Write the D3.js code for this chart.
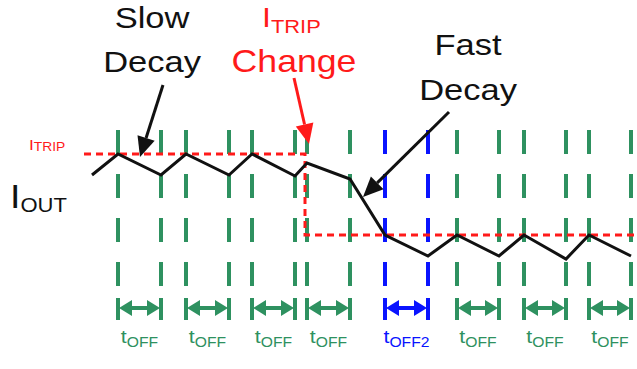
<!DOCTYPE html>
<html>
<head>
<meta charset="utf-8">
<script src="https://cdn.jsdelivr.net/npm/d3@7"></script>
<style>
  html, body { margin: 0; padding: 0; background: #fff; }
  svg { display: block; }
  text { font-family: "Liberation Sans", Arial, sans-serif; }
</style>
</head>
<body>
<svg id="chart" width="637" height="369"></svg>
<script>
// --- DATA ---
// off-time windows (start / end, in us)
const offStart = [2.6, 9.4, 16.0, 21.5, 29.3, 36.5, 43.2, 49.7];
const offEnd   = [6.9, 13.7, 20.3, 25.8, 33.6, 40.7, 47.4, 53.9];
const offSub   = ["OFF", "OFF", "OFF", "OFF", "OFF2", "OFF", "OFF", "OFF"];
const offKind  = ["slow", "slow", "slow", "slow", "fast", "slow", "slow", "slow"];

// output current waveform
const waveT = [0, 2.6, 6.9, 9.4, 13.7, 16.0, 20.3, 21.5, 25.8, 29.3, 33.6, 36.5, 40.7, 43.2, 47.4, 49.7, 53.9];
const waveI = [1.45, 1.66, 1.45, 1.66, 1.45, 1.66, 1.44, 1.57, 1.41, 0.85, 0.64, 0.85, 0.64, 0.85, 0.61, 0.85, 0.64];

// trip threshold (steps down at the change)
const tripT = [-0.8, 21.3, 21.3, 54.5];
const tripI = [1.66, 1.66, 0.85, 0.85];

// vertical marker extents / arrow row / label row (current units)
const markTop = 1.9, markBottom = 0.33;
const arrowRow = 0.12, capTop = 0.22, capBottom = 0.0;
const labelRow = -0.23;

const colors = { slow: "#2e9160", fast: "#0a14ff", trip: "#ff1a1a", wave: "#111" };

// --- SCALES ---
const x = d3.scaleLinear().domain([0, 54.5]).range([92, 637]);
const y = d3.scaleLinear().domain([0, 2]).range([320, 120]);

const svg = d3.select("#chart");
const windows = offStart.map((s, i) => ({ s, e: offEnd[i], sub: offSub[i], kind: offKind[i] }));

// dashed vertical markers
const marks = svg.append("g");
windows.forEach(w => {
  [w.s, w.e].forEach(t => {
    marks.append("line")
      .attr("x1", x(t)).attr("x2", x(t))
      .attr("y1", y(markTop)).attr("y2", y(markBottom))
      .attr("stroke", colors[w.kind]).attr("stroke-width", 4)
      .attr("stroke-dasharray", "24,20");
  });
});

// double arrows + labels
const arrows = svg.append("g");
windows.forEach(w => {
  const c = colors[w.kind];
  const x1 = x(w.s), x2 = x(w.e), ya = y(arrowRow);
  [x1, x2].forEach(xx => {
    arrows.append("line")
      .attr("x1", xx).attr("x2", xx)
      .attr("y1", y(capTop)).attr("y2", y(capBottom))
      .attr("stroke", c).attr("stroke-width", 4);
  });
  arrows.append("line")
    .attr("x1", x1 + 6).attr("x2", x2 - 6)
    .attr("y1", ya).attr("y2", ya)
    .attr("stroke", c).attr("stroke-width", 4);
  arrows.append("path")
    .attr("d", `M${x1 + 1},${ya} L${x1 + 14},${ya - 8} L${x1 + 14},${ya + 8} Z`)
    .attr("fill", c);
  arrows.append("path")
    .attr("d", `M${x2 - 1},${ya} L${x2 - 14},${ya - 8} L${x2 - 14},${ya + 8} Z`)
    .attr("fill", c);

  const lbl = arrows.append("text")
    .attr("transform", `translate(${(x1 + x2) / 2},${y(labelRow)}) scale(1.12,1)`)
    .attr("text-anchor", "middle")
    .attr("fill", c);
  lbl.append("tspan").attr("font-size", 19).text("t");
  lbl.append("tspan").attr("font-size", 14).attr("dy", 4).text(w.sub);
});

// trip threshold
const tripLine = d3.line().x((d, i) => x(tripT[i])).y(d => y(d));
svg.append("path")
  .attr("d", tripLine(tripI))
  .attr("fill", "none")
  .attr("stroke", colors.trip).attr("stroke-width", 3)
  .attr("stroke-dasharray", "7,5");

// current waveform
const waveLine = d3.line().x((d, i) => x(waveT[i])).y(d => y(d));
svg.append("path")
  .attr("d", waveLine(waveI))
  .attr("fill", "none")
  .attr("stroke", colors.wave).attr("stroke-width", 3)
  .attr("stroke-linejoin", "miter");

// annotation arrows
function pointer(x1, y1, x2, y2, color) {
  const ang = Math.atan2(y2 - y1, x2 - x1);
  const len = 20, half = 9;
  const bx = x2 - len * Math.cos(ang), by = y2 - len * Math.sin(ang);
  svg.append("line")
    .attr("x1", x1).attr("y1", y1).attr("x2", bx).attr("y2", by)
    .attr("stroke", color).attr("stroke-width", 3);
  const px = -Math.sin(ang) * half, py = Math.cos(ang) * half;
  svg.append("path")
    .attr("d", `M${x2},${y2} L${bx + px},${by + py} L${bx - px},${by - py} Z`)
    .attr("fill", color);
}
pointer(163, 85, 140, 157, colors.wave);
pointer(449, 112, 363, 197, colors.wave);
pointer(294, 78, 309, 144, colors.trip);

// text labels
function label(tx, ty, size, str, color) {
  svg.append("text")
    .attr("transform", `translate(${tx},${ty}) scale(1.15,1)`)
    .attr("text-anchor", "middle")
    .attr("font-size", size)
    .attr("fill", color)
    .text(str);
}
label(152, 28, 30, "Slow", colors.wave);
label(152, 72, 30, "Decay", colors.wave);
label(468, 55, 30, "Fast", colors.wave);
label(468, 100, 30, "Decay", colors.wave);
label(294, 72, 31, "Change", colors.trip);

// I_TRIP title (red)
const tt = svg.append("text")
  .attr("transform", "translate(262,27) scale(1.15,1)")
  .attr("fill", colors.trip);
tt.append("tspan").attr("font-size", 28).text("I");
tt.append("tspan").attr("font-size", 19).attr("dy", 6).text("TRIP");

// I_TRIP small label
const ts = svg.append("text")
  .attr("transform", "translate(29,150) scale(1.15,1)")
  .attr("fill", colors.trip);
ts.append("tspan").attr("font-size", 15).text("I");
ts.append("tspan").attr("font-size", 12).attr("dy", 1).text("TRIP");

// I_OUT label
const io = svg.append("text")
  .attr("transform", "translate(10,208) scale(1.1,1)")
  .attr("fill", colors.wave);
io.append("tspan").attr("font-size", 34).text("I");
io.append("tspan").attr("font-size", 20).attr("dy", 4).text("OUT");
</script>
</body>
</html>
